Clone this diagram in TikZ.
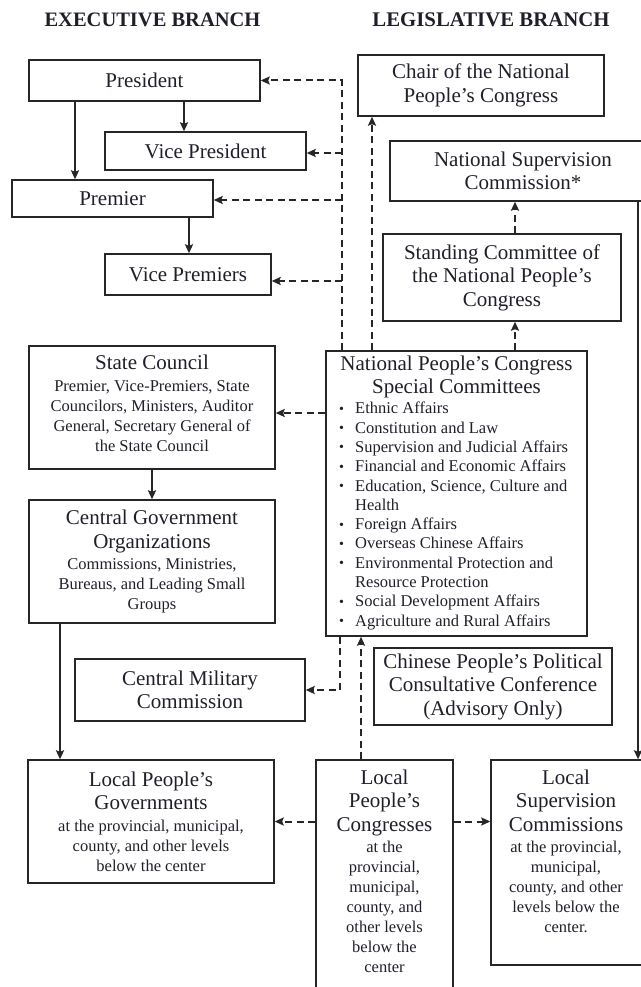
\documentclass[tikz,border=0pt]{standalone}
\usepackage{fontspec}
\setmainfont{Liberation Serif}
\usetikzlibrary{arrows.meta,calc}
\definecolor{txt}{HTML}{1F1F2B}
\definecolor{ln}{HTML}{262626}
\newcommand\Tsz{\fontsize{21}{23.5}\selectfont}
\newcommand\Ssz{\fontsize{16.5}{20}\selectfont}
\newcommand\Lsz{\fontsize{16.5}{19.3}\selectfont}
\newcommand\bul{\makebox[16pt][l]{\fontsize{14}{14}\selectfont\raisebox{0.5pt}{•}}}
\newcommand\nl{\\[-3.5pt]\Ssz }
\newcommand\tl{\\[-2pt]\Ssz }
\begin{document}
\begin{tikzpicture}[x=1pt,y=-1pt,
  box/.style={draw=ln, line width=1.4pt, text=txt, align=center, inner sep=0pt, font=\Tsz},
  txtnode/.style={text=txt, inner sep=0pt},
  sol/.style={draw=ln, line width=2pt, -{Stealth[length=9pt,width=8pt,inset=1.5pt]}},
  dsh/.style={draw=ln, line width=2pt, dash pattern=on 7pt off 4.5pt, -{Stealth[length=9pt,width=8pt,inset=1.5pt]}},
]
\useasboundingbox (0,0) rectangle (640,987);

% headers
\node[txtnode, font=\fontsize{20.5}{24}\selectfont\bfseries] (hexec) at (152.5,20) {EXECUTIVE BRANCH};
\node[txtnode, font=\fontsize{20.8}{24}\selectfont\bfseries] (hleg) at (491,20) {LEGISLATIVE BRANCH};

% executive
\node[box, minimum width=231pt, minimum height=41pt] (pres) at (144.5,80.5) {President};
\node[box, minimum width=201pt, minimum height=38pt] (vp) at (205.5,151) {Vice President};
\node[box, minimum width=201pt, minimum height=37pt] (prem) at (112.5,198.5) {Premier};
\node[box, minimum width=166pt, minimum height=41pt] (vprem) at (188,274.5) {Vice Premiers};
\node[box, minimum width=246pt, minimum height=123pt] (sc) at (152,407.5) {};
\node[txtnode, font=\Tsz, align=center] (sct) at (152,403.5)
  {State Council\tl Premier, Vice-Premiers, State\nl Councilors, Ministers, Auditor\nl General, Secretary General of\nl the State Council};
\node[box, minimum width=246pt, minimum height=123pt] (cgo) at (152,561.5)
  {Central Government\\Organizations\tl Commissions, Ministries,\nl Bureaus, and Leading Small\nl Groups};
\node[box, minimum width=230pt, minimum height=62pt] (cmc) at (190,690) {Central Military\\Commission};
\node[box, minimum width=246pt, minimum height=123pt] (lpg) at (151,821.5)
  {Local People’s\\Governments\tl at the provincial, municipal,\nl county, and other levels\nl below the center};

% legislative
\node[box, minimum width=246pt, minimum height=61pt] (chair) at (481,85.5) {Chair of the National\\People’s Congress};
\node[box, minimum width=266pt, minimum height=60pt] (nsc) at (523,171) {National Supervision\\Commission*};
\node[box, minimum width=238pt, minimum height=87pt] (stand) at (502,277.5) {Standing Committee of\\the National People’s\\Congress};
\node[box, minimum width=261pt, minimum height=285pt] (npc) at (456.5,493.5) {};
\node[txtnode, font=\Tsz, align=center] (npct) at (456.5,377) {National People’s Congress\\Special Committees};
\node[txtnode, font=\Lsz, align=left, anchor=north west] (npcl) at (339,402)
  {\bul Ethnic Affairs\\
   \bul Constitution and Law\\
   \bul Supervision and Judicial Affairs\\
   \bul Financial and Economic Affairs\\
   \bul Education, Science, Culture and\\
   \hspace*{16pt}Health\\
   \bul Foreign Affairs\\
   \bul Overseas Chinese Affairs\\
   \bul Environmental Protection and\\
   \hspace*{16pt}Resource Protection\\
   \bul Social Development Affairs\\
   \bul Agriculture and Rural Affairs};
\node[box, minimum width=238pt, minimum height=77pt] (cppcc) at (493,686.5)
  {Chinese People’s Political\\Consultative Conference\\(Advisory Only)};
\node[box, minimum width=137pt, minimum height=240pt] (lpc) at (384.5,880) {};
\node[txtnode, font=\Tsz, align=center, anchor=north] (lpct) at (384.5,769.5)
  {Local\\People’s\\Congresses\tl at the\nl provincial,\nl municipal,\nl county, and\nl other levels\nl below the\nl center};
\node[box, minimum width=151pt, minimum height=205pt] (lsc) at (566.5,862.5) {};
\node[txtnode, font=\Tsz, align=center, anchor=north] (lsct) at (566,769.5)
  {Local\\Supervision\\Commissions\tl at the provincial,\nl municipal,\nl county, and other\nl levels below the\nl center.};

% guides
\coordinate (g60) at (60,0);
\coordinate (g75) at (75,0);
\coordinate (g184) at (184,0);
\coordinate (g189) at (189,0);
\coordinate (g340) at (340,0);
\coordinate (g342) at (342,0);
\coordinate (g361) at (361,0);
\coordinate (g372) at (372,0);
\coordinate (g515) at (515,0);
\coordinate (g638) at (638,0);
\coordinate (y153) at (0,153);
\coordinate (y200) at (0,200);
\coordinate (y281) at (0,281);
\coordinate (y413) at (0,413);

% solid connectors
\draw[sol] (g184 |- pres.south) -- (g184 |- vp.north);
\draw[sol] (g75 |- pres.south) -- (g75 |- prem.north);
\draw[sol] (g189 |- prem.south) -- (g189 |- vprem.north);
\draw[sol] (sc.south) -- (cgo.north);
\draw[sol] (g60 |- cgo.south) -- (g60 |- lpg.north);
\draw[sol] (g638 |- nsc.south) -- (g638 |- lsc.north);

% dashed connectors
\draw[dsh] (g342 |- npc.north) -- (g342 |- pres.east) -- (pres.east);
\draw[dsh] (g342 |- y153) -- (vp.east |- y153);
\draw[dsh] (g342 |- y200) -- (prem.east |- y200);
\draw[dsh] (g342 |- y281) -- (vprem.east |- y281);
\draw[dsh] (g372 |- npc.north) -- (g372 |- chair.south);
\draw[dsh] (g515 |- npc.north) -- (g515 |- stand.south);
\draw[dsh] (g515 |- stand.north) -- (g515 |- nsc.south);
\draw[dsh] (npc.west |- y413) -- (sc.east |- y413);
\draw[dsh] (g340 |- npc.south) -- (g340 |- cmc.east) -- (cmc.east);
\draw[dsh] (g361 |- lpc.north) -- (g361 |- npc.south);
\draw[dsh] (lpc.west |- lpg.east) -- (lpg.east);
\draw[dsh] (lpc.east |- lpg.east) -- (lsc.west |- lpg.east);
\end{tikzpicture}
\end{document}
